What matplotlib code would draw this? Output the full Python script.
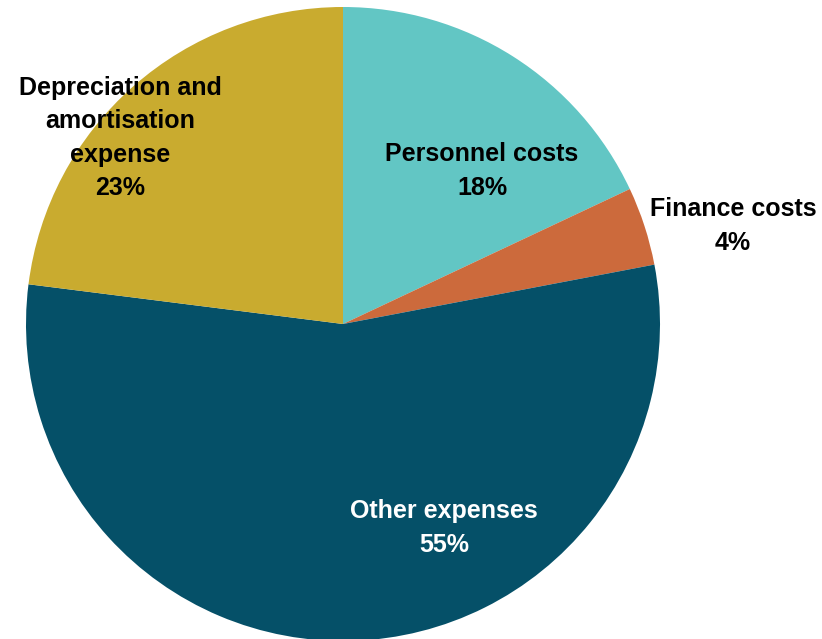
import matplotlib.pyplot as plt

labels = ["Personnel costs", "Finance costs", "Other expenses",
          "Depreciation and\namortisation\nexpense"]
shares = [18, 4, 55, 23]
colors = ["#62C6C4", "#CC6A3C", "#055068", "#C9AB2F"]
text_colors = ["black", "black", "white", "black"]
# label centres in pixel coordinates (y measured from bottom)
label_pos = [(482, 468), (733, 413), (444, 111), (120, 501)]

fig = plt.figure(figsize=(8.22, 6.39), dpi=100)
ax = fig.add_axes([0, 0, 1, 1])

ax.pie(shares, colors=colors, startangle=90, counterclock=False,
       center=(343, 315), radius=317, frame=True)
ax.set_xlim(0, 822)
ax.set_ylim(0, 639)
ax.set_aspect("equal")
ax.set_axis_off()

for lab, v, c, (x, y) in zip(labels, shares, text_colors, label_pos):
    ax.text(x, y, "{}\n{}%".format(lab, v), ha="center", va="center",
            color=c, fontsize=18, fontweight="bold", family="Liberation Sans",
            linespacing=1.5)

fig.savefig("out.png", dpi=100)
